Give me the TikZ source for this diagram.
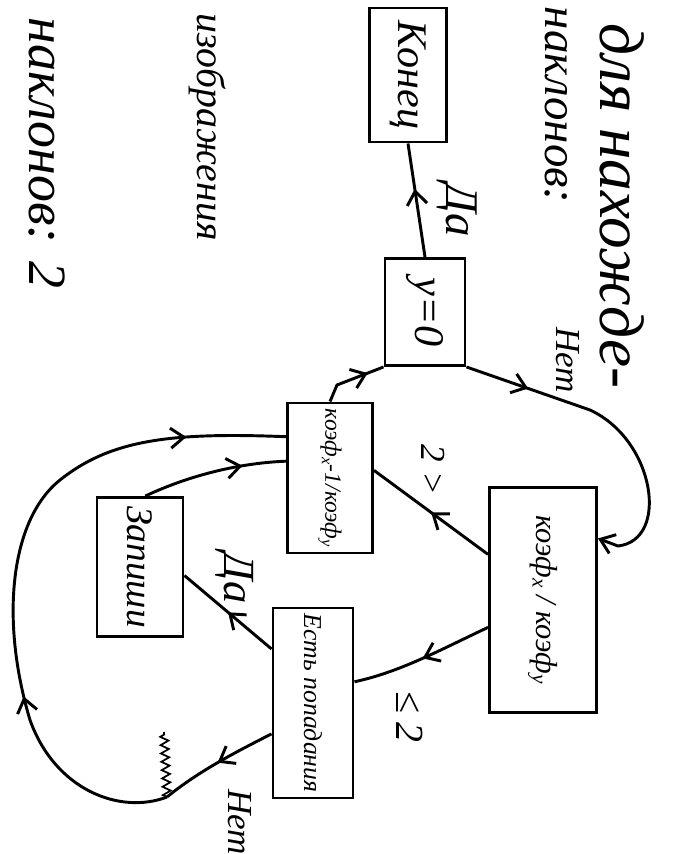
\documentclass[tikz,border=0pt]{standalone}
\usepackage{fontspec}
\setmainfont{Liberation Serif}
\usepackage{tikz}
\usetikzlibrary{calc,arrows.meta,decorations.markings,decorations.pathmorphing}
\newcommand{\hand}[1]{\itshape\fontsize{#1}{#1}\selectfont}

\begin{document}
\begin{tikzpicture}[
x=0.3mm,
y=-0.3mm,
line width=2.5pt,
box/.style={
  draw,
  rotate=-90,
  inner sep=0pt
  },
word/.style={
  rotate=-90,
  inner sep=0pt
  },
flow/.style={
  postaction={decorate,
    decoration={markings, mark=at position #1 with {\arrow{>}}}}
  },
flow/.default=0.5,
>={Straight Barb[length=4mm,width=6mm]}
]
\useasboundingbox (0,0) rectangle (672,854);

\node[box, minimum width=40.2mm, minimum height=23.1mm, font=\hand{36}] (end) at (408,75) {Конец};
\node[box, minimum width=32.1mm, minimum height=24mm, font=\hand{36}] (zero) at (425,312) {y=0};
\node[box, minimum width=67.5mm, minimum height=32.1mm, font=\hand{26}] (ratio) at (543,600) {коэф\textsubscript{x} / коэф\textsubscript{y}};
\node[box, minimum width=45mm, minimum height=25.5mm, font=\hand{20}] (dec) at (330,478) {коэф\textsubscript{x}-1/коэф\textsubscript{y}};
\node[box, minimum width=57mm, minimum height=24mm, font=\hand{22}] (chk) at (313,703) {Есть попадания};
\node[box, minimum width=41.7mm, minimum height=25.8mm, font=\hand{32}] (save) at (140,567) {Запиши};

\node[word, anchor=west, font=\hand{54}] (t1) at (622,22) {для нахожде-};
\node[word, anchor=east, font=\hand{40}] (t2) at (556,205) {наклонов:};
\node[word, anchor=east, font=\hand{34}] (t3) at (208,242) {изображения};
\node[word, anchor=east, font=\hand{46}] (t4) at (47,290) {наклонов: 2};

\node[word, font=\hand{40}] (yes1) at (457,210) {Да};
\node[word, font=\hand{30}] (no1) at (568,360) {Нет};
\node[word, font=\hand{30}] (gt) at (433,470) {2 >};
\node[word, font=\hand{34}] (le) at (410,717) {≤ 2};
\node[word, font=\hand{38}] (yes2) at (235,578) {Да};
\node[word, font=\hand{30}] (no2) at (240,822) {Нет};

\coordinate (knot) at (167,797);

\draw[flow=0.6] (zero.west) -- (end.east);
\draw[flow=0.2, ->] (zero.north east) -- (590,410) .. controls (655,440) and (670,540) .. (618,546) -- ($(ratio.north west)!0.23!(ratio.north east)$);
\draw[flow=0.75] (dec.west) -- (337,385) -- (zero.south east);
\draw[flow] ($(ratio.south west)!0.3!(ratio.south east)$) -- ($(dec.north west)!0.45!(dec.north east)$);
\draw[flow] ($(ratio.south west)!0.62!(ratio.south east)$) .. controls (440,650) and (400,672) .. ($(chk.north west)!0.39!(chk.north east)$);
\draw[flow] ($(chk.south west)!0.22!(chk.south east)$) -- ($(save.north west)!0.56!(save.north east)$);
\draw[flow=0.7] ($(save.north west)!0.44!(save.south west)$) .. controls (190,475) and (240,463) .. ($(dec.south west)!0.39!(dec.south east)$);
\draw[flow] ($(chk.south west)!0.66!(chk.south east)$) .. controls (240,750) and (200,770) .. (knot);
\draw[flow=0.3, flow=0.85] (knot) .. controls (120,815) and (55,790) .. (30,720) .. controls (0,620) and (10,520) .. (60,480) .. controls (110,440) and (170,432) .. ($(dec.south west)!0.23!(dec.south east)$);
\draw[line width=1.5pt, decorate, decoration={zigzag, amplitude=1.2mm, segment length=2.5mm}] (knot) -- (164,732);

\end{tikzpicture}
\end{document}
